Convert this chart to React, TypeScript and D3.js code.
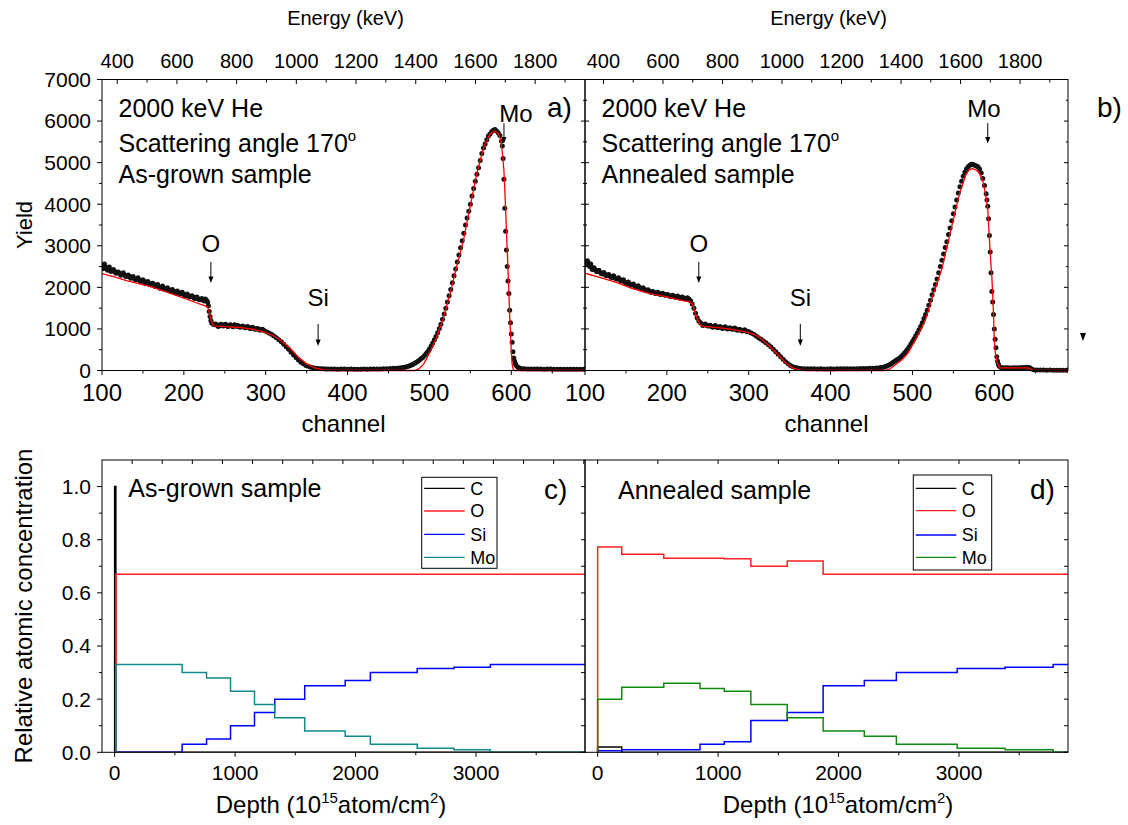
import React from "react";
import * as d3 from "d3";

const FONT = "'Liberation Sans', Arial, Helvetica, sans-serif";

// ---------- tick values ----------
const channelTicks = [100, 200, 300, 400, 500, 600];
const energyTicks = [400, 600, 800, 1000, 1200, 1400, 1600, 1800];
const yieldTicks = [0, 1000, 2000, 3000, 4000, 5000, 6000, 7000];
const concTicks = [0, 0.2, 0.4, 0.6, 0.8, 1.0];
const depthTicks = [0, 1000, 2000, 3000];

// ---------- RBS spectra: [channel, yield] (measured points) ----------
const grownSpectrum: [number, number][] = [
  [100, 2540], [101, 2450], [102, 2470], [103, 2560], [104, 2500], [105, 2480], [106, 2440], [107, 2410], [108, 2460],
  [109, 2490], [110, 2420], [111, 2380], [113, 2400], [114, 2430], [116, 2380], [117, 2340], [119, 2350], [120, 2370],
  [122, 2330], [123, 2290], [125, 2320], [126, 2350], [128, 2300], [129, 2260], [131, 2270], [132, 2300], [134, 2260],
  [135, 2220], [137, 2230], [138, 2260], [140, 2210], [141, 2180], [143, 2200], [144, 2230], [146, 2170], [147, 2140],
  [149, 2150], [150, 2180], [152, 2140], [153, 2100], [155, 2110], [156, 2140], [158, 2090], [159, 2060], [161, 2080],
  [162, 2100], [164, 2060], [165, 2020], [167, 2040], [168, 2070], [170, 2010], [171, 1980], [173, 2000], [174, 2030],
  [176, 1980], [177, 1950], [179, 1950], [180, 1990], [182, 1940], [183, 1910], [185, 1920], [186, 1950], [188, 1900],
  [189, 1870], [191, 1880], [192, 1910], [194, 1870], [195, 1840], [197, 1850], [198, 1880], [200, 1830], [201, 1800],
  [203, 1810], [204, 1840], [206, 1800], [207, 1770], [209, 1780], [210, 1800], [212, 1760], [213, 1730], [215, 1740],
  [216, 1770], [218, 1720], [219, 1700], [221, 1700], [222, 1730], [224, 1690], [225, 1670], [226, 1720], [227, 1700],
  [228, 1680], [229, 1640], [230, 1560], [231, 1420], [232, 1300], [233, 1200], [234, 1140], [236, 1110], [238, 1100],
  [239, 1120], [241, 1090], [242, 1060], [244, 1080], [245, 1110], [247, 1100], [248, 1070], [250, 1080], [251, 1110],
  [253, 1070], [254, 1060], [256, 1090], [257, 1100], [259, 1070], [260, 1050], [262, 1100], [263, 1080], [265, 1060],
  [266, 1080], [268, 1050], [269, 1040], [271, 1060], [272, 1070], [274, 1040], [275, 1030], [277, 1050], [278, 1060],
  [280, 1030], [281, 1010], [283, 1020], [284, 1040], [286, 1010], [287, 990], [289, 1000], [290, 1010], [292, 990],
  [293, 970], [295, 980], [296, 990], [298, 960], [301, 930], [304, 900], [307, 870], [310, 830], [313, 790], [316, 740],
  [319, 690], [322, 630], [325, 570], [328, 510], [331, 440], [334, 370], [337, 310], [340, 250], [343, 200], [346, 160],
  [349, 120], [352, 100], [355, 80], [358, 65], [361, 55], [364, 50], [367, 45], [370, 40], [373, 38], [376, 38],
  [380, 35], [384, 35], [388, 33], [392, 35], [396, 34], [400, 32], [404, 35], [408, 31], [412, 30], [416, 33], [420, 35],
  [424, 32], [428, 35], [432, 36], [436, 38], [440, 35], [444, 40], [448, 43], [452, 47], [456, 52], [460, 55], [463, 60],
  [466, 68], [468, 74], [470, 80], [472, 90], [474, 100], [476, 115], [478, 130], [480, 150], [482, 175], [484, 200],
  [486, 225], [488, 255], [490, 290], [492, 320], [494, 360], [496, 410], [498, 460], [500, 520], [502, 590], [504, 660],
  [506, 740], [508, 820], [510, 910], [512, 1010], [514, 1110], [516, 1230], [518, 1360], [520, 1500], [522, 1650],
  [524, 1800], [526, 1950], [528, 2110], [530, 2280], [532, 2440], [534, 2610], [536, 2780], [538, 2950], [540, 3120],
  [542, 3300], [544, 3500], [546, 3670], [548, 3830], [550, 4000], [552, 4200], [554, 4380], [556, 4550], [558, 4720],
  [560, 4880], [562, 5050], [564, 5220], [566, 5350], [568, 5450], [570, 5550], [572, 5640], [574, 5690], [576, 5750],
  [578, 5780], [580, 5800], [582, 5760], [584, 5720], [586, 5650], [588, 5520], [589, 5400], [590, 5100], [591, 4600],
  [592, 3900], [593, 3350], [594, 2900], [595, 2500], [596, 2150], [597, 1850], [598, 1450], [599, 1150], [600, 880],
  [601, 680], [602, 450], [603, 300], [604, 220], [605, 160], [606, 120], [608, 80], [610, 60], [613, 45], [616, 40],
  [620, 38], [624, 35], [628, 35], [632, 34], [636, 34], [640, 33], [644, 34], [648, 35], [652, 33], [656, 33], [660, 32],
  [664, 33], [668, 33], [672, 31], [676, 31], [680, 30], [684, 31], [688, 30], [690, 30],
];

const grownFit: [number, number][] = [
  [100, 2330], [115, 2250], [130, 2160], [145, 2090], [160, 2010], [180, 1880], [200, 1740], [215, 1630], [225, 1560],
  [229, 1530], [231, 1420], [233, 1240], [235, 1110], [238, 1075], [250, 1055], [265, 1040], [280, 1005], [292, 960],
  [300, 910], [310, 830], [320, 700], [330, 530], [340, 320], [350, 160], [360, 60], [370, 15], [380, 0], [482, 0],
  [487, 40], [493, 160], [501, 450], [509, 810], [517, 1260], [525, 1830], [533, 2480], [542, 3170], [550, 3980],
  [558, 4750], [566, 5360], [574, 5690], [580, 5760], [584, 5700], [587, 5550], [589, 5250], [591, 4800], [593, 3900],
  [595, 2900], [597, 1900], [598, 1300], [599, 850], [600, 450], [601, 150], [602, 50], [603, 0], [690, 0],
];

const annealSpectrum: [number, number][] = [
  [100, 2620], [101, 2560], [102, 2560], [103, 2640], [104, 2580], [105, 2520], [106, 2500], [107, 2560], [108, 2480],
  [109, 2430], [110, 2450], [111, 2470], [113, 2420], [114, 2380], [116, 2380], [117, 2410], [119, 2350], [120, 2330],
  [122, 2320], [123, 2360], [125, 2310], [126, 2280], [128, 2280], [129, 2310], [131, 2270], [132, 2240], [134, 2250],
  [135, 2280], [137, 2220], [138, 2200], [140, 2200], [141, 2230], [143, 2180], [144, 2150], [146, 2150], [147, 2180],
  [149, 2120], [150, 2100], [152, 2100], [153, 2130], [155, 2080], [156, 2050], [158, 2060], [159, 2080], [161, 2030],
  [162, 2010], [164, 2010], [165, 2040], [167, 1990], [168, 1960], [170, 1970], [171, 1990], [173, 1950], [174, 1920],
  [176, 1920], [177, 1940], [179, 1900], [180, 1880], [182, 1890], [183, 1900], [185, 1870], [186, 1850], [188, 1860],
  [189, 1880], [191, 1850], [192, 1830], [194, 1840], [195, 1860], [197, 1830], [198, 1810], [200, 1820], [201, 1830],
  [203, 1800], [204, 1780], [206, 1790], [207, 1810], [209, 1780], [210, 1760], [212, 1770], [213, 1790], [215, 1760],
  [216, 1740], [218, 1760], [219, 1770], [221, 1740], [222, 1720], [224, 1730], [225, 1750], [227, 1720], [229, 1680],
  [231, 1600], [233, 1500], [235, 1380], [237, 1270], [239, 1190], [241, 1150], [243, 1120], [244, 1080], [246, 1100],
  [247, 1120], [249, 1090], [250, 1070], [252, 1070], [253, 1090], [255, 1060], [256, 1040], [258, 1060], [259, 1080],
  [261, 1050], [262, 1030], [264, 1040], [265, 1060], [267, 1030], [268, 1010], [270, 1030], [271, 1050], [273, 1020],
  [274, 1000], [276, 1010], [277, 1030], [279, 1010], [280, 990], [282, 1000], [283, 1020], [285, 990], [286, 970],
  [288, 980], [289, 990], [291, 970], [292, 950], [294, 960], [295, 980], [297, 950], [298, 930], [300, 930], [303, 900],
  [306, 870], [309, 830], [312, 790], [315, 750], [318, 710], [321, 670], [324, 620], [327, 570], [330, 510], [333, 450],
  [336, 390], [339, 330], [342, 270], [345, 210], [348, 160], [351, 120], [354, 90], [357, 70], [360, 60], [364, 50],
  [368, 45], [372, 42], [376, 40], [380, 40], [384, 38], [388, 40], [392, 38], [396, 39], [400, 40], [404, 38], [408, 40],
  [412, 41], [416, 42], [420, 40], [424, 42], [428, 44], [432, 45], [436, 46], [440, 48], [444, 50], [448, 53], [452, 57],
  [456, 60], [460, 65], [462, 70], [464, 75], [466, 88], [468, 105], [470, 120], [472, 140], [474, 165], [476, 190],
  [478, 215], [480, 245], [482, 270], [484, 295], [486, 330], [488, 370], [490, 415], [492, 465], [494, 510], [496, 570],
  [498, 635], [500, 700], [502, 765], [504, 835], [506, 900], [508, 980], [510, 1060], [512, 1150], [514, 1250],
  [516, 1350], [518, 1450], [520, 1570], [522, 1690], [524, 1820], [526, 1940], [528, 2070], [530, 2200], [532, 2350],
  [534, 2500], [536, 2650], [538, 2800], [540, 2960], [542, 3100], [544, 3270], [546, 3430], [548, 3600], [550, 3770],
  [552, 3930], [554, 4100], [556, 4270], [558, 4420], [560, 4550], [562, 4670], [564, 4770], [566, 4850], [568, 4900],
  [570, 4940], [572, 4960], [574, 4955], [576, 4940], [578, 4920], [580, 4900], [582, 4850], [584, 4750], [586, 4620],
  [588, 4450], [590, 4250], [591, 4100], [592, 3950], [593, 3650], [594, 3250], [595, 2850], [596, 2350], [597, 1900],
  [598, 1650], [599, 1350], [600, 1000], [601, 750], [602, 550], [603, 330], [604, 220], [605, 150], [606, 100],
  [608, 75], [611, 65], [614, 65], [617, 64], [620, 62], [623, 64], [626, 65], [629, 67], [632, 69], [635, 72], [638, 75],
  [640, 78], [643, 70], [645, 40], [648, 20], [652, 12], [656, 10], [660, 10], [664, 9], [668, 10], [672, 9], [676, 9],
  [680, 8], [684, 8], [688, 8], [690, 8],
];

const annealFit: [number, number][] = [
  [100, 2340], [120, 2230], [140, 2110], [157, 1975], [180, 1850], [200, 1770], [220, 1680], [228, 1650], [231, 1600],
  [233, 1500], [235, 1370], [238, 1200], [241, 1090], [245, 1060], [262, 1030], [280, 990], [296, 930], [305, 880],
  [313, 800], [321, 660], [330, 500], [338, 330], [346, 170], [353, 70], [359, 25], [366, 5], [372, 0], [466, 0],
  [472, 30], [480, 150], [487, 260], [494, 400], [503, 720], [515, 1170], [525, 1800], [536, 2450], [546, 3300],
  [557, 4220], [565, 4700], [569, 4820], [573, 4860], [578, 4820], [582, 4740], [586, 4550], [588, 4380], [590, 4150],
  [592, 3880], [594, 3150], [596, 2500], [597, 2250], [599, 1370], [600, 720], [601, 450], [603, 230], [605, 110],
  [607, 65], [620, 62], [641, 65], [644, 40], [647, 5], [690, 0],
];

// element edge markers (channel)
const grownMarkers = [
  { el: "O", ch: 233 },
  { el: "Si", ch: 364 },
  { el: "Mo", ch: 591 },
];
const annealMarkers = [
  { el: "O", ch: 239 },
  { el: "Si", ch: 363 },
  { el: "Mo", ch: 592 },
];

// ---------- depth profiles (layer start depth, 1e15 at/cm2) ----------
const grownDepth = [0, 10, 560, 763, 962, 1161, 1329, 1578, 1914, 2123, 2512, 2817, 3119];
const grownC = [1.0, 0, 0, 0, 0, 0, 0, 0, 0, 0, 0, 0, 0];
const grownO = [0, 0.67, 0.67, 0.67, 0.67, 0.67, 0.67, 0.67, 0.67, 0.67, 0.67, 0.67, 0.67];
const grownSi = [0, 0, 0.03, 0.05, 0.1, 0.15, 0.2, 0.25, 0.27, 0.3, 0.315, 0.32, 0.33];
const grownMo = [0, 0.33, 0.3, 0.28, 0.23, 0.18, 0.13, 0.08, 0.06, 0.03, 0.015, 0.01, 0];

const annealDepth = [0, 200, 549, 850, 1051, 1272, 1574, 1872, 2214, 2480, 2985, 3383, 3782];
const annealC = [0.02, 0, 0, 0, 0, 0, 0, 0, 0, 0, 0, 0, 0];
const annealO = [0.773, 0.745, 0.73, 0.73, 0.728, 0.7, 0.72, 0.67, 0.67, 0.67, 0.67, 0.67, 0.67];
const annealSi = [0.006, 0.01, 0.01, 0.03, 0.04, 0.12, 0.15, 0.25, 0.27, 0.3, 0.315, 0.32, 0.33];
const annealMo = [0.2, 0.245, 0.26, 0.24, 0.23, 0.18, 0.13, 0.08, 0.06, 0.03, 0.015, 0.01, 0];

const elementNames = ["C", "O", "Si", "Mo"];

// ---------- layout ----------
const TOP_Y0 = 79.5;
const TOP_Y1 = 370.5;
const BOT_Y0 = 460;
const BOT_Y1 = 752.3;
const PANEL_L = 102;
const PANEL_M = 585;
const PANEL_R = 1068;
const CH_DOMAIN: [number, number] = [100, 690];
const DEPTH_DOMAIN: [number, number] = [-105, 3905];

type SpecProps = {
  id: string;
  left: number;
  right: number;
  energyDomain: [number, number];
  spectrum: [number, number][];
  fit: [number, number][];
  markers: { el: string; ch: number }[];
  first: boolean;
  lines: string[];
  letter: string;
  letterX: number;
  moLabelX: number;
  moLabelY: number;
};

function SpectrumPanel(p: SpecProps) {
  const x = d3.scaleLinear().domain(CH_DOMAIN).range([p.left, p.right]);
  const y = d3.scaleLinear().domain([0, 7000]).range([TOP_Y1, TOP_Y0]);
  const e = d3.scaleLinear().domain(p.energyDomain).range([p.left, p.right]);
  const line = d3
    .line<[number, number]>()
    .x((d) => x(d[0]))
    .y((d) => y(d[1]));
  const chMinor = d3.range(100, 691, 50);
  const eMinor = d3.range(Math.ceil(p.energyDomain[0] / 100) * 100, p.energyDomain[1], 100);
  const yMinor = d3.range(0, 7001, 500);
  const cx = (p.left + p.right) / 2;
  const markerLayout: Record<string, { ly: number; a0: number; a1: number }> = {
    O: { ly: 251.7, a0: 2610, a1: 2105 },
    Si: { ly: 305.5, a0: 1120, a1: 590 },
    Mo: { ly: p.moLabelY, a0: 5950, a1: 5460 },
  };
  return (
    <g>
      <defs>
        <clipPath id={p.id}>
          <rect x={p.left} y={TOP_Y0} width={p.right - p.left} height={TOP_Y1 - TOP_Y0 + 3} />
        </clipPath>
      </defs>
      <g clipPath={`url(#${p.id})`}>
        {p.spectrum.map((d, i) => (
          <circle key={i} cx={x(d[0])} cy={y(d[1])} r={2.5} fill="#111" />
        ))}
        <path d={line(p.fit) || ""} fill="none" stroke="#ff0000" strokeWidth={1.3} />
      </g>
      <rect x={p.left} y={TOP_Y0} width={p.right - p.left} height={TOP_Y1 - TOP_Y0} fill="none" stroke="#000" strokeWidth={1} />
      {chMinor.map((c) => (
        <line key={"b" + c} x1={x(c)} x2={x(c)} y1={TOP_Y1} y2={TOP_Y1 + (c % 100 === 0 ? 4.5 : 3)} stroke="#000" />
      ))}
      {channelTicks.map((c) => (
        <text key={"bl" + c} x={x(c)} y={401} textAnchor="middle" fontSize={24}>
          {c}
        </text>
      ))}
      <text x={cx} y={431.5} textAnchor="middle" fontSize={24}>
        channel
      </text>
      {eMinor.map((v) => (
        <line key={"t" + v} x1={e(v)} x2={e(v)} y1={TOP_Y0} y2={TOP_Y0 + (v % 200 === 0 ? 4.5 : 3)} stroke="#000" />
      ))}
      {energyTicks.map((v) => (
        <text key={"tl" + v} x={e(v)} y={68} textAnchor="middle" fontSize={20}>
          {v}
        </text>
      ))}
      <text x={cx + 2} y={25} textAnchor="middle" fontSize={20}>
        Energy (keV)
      </text>
      {yMinor.map((v) => {
        const len = v % 1000 === 0 ? 5 : 3;
        return (
          <g key={"y" + v}>
            {p.first ? (
              <line x1={p.left - len} x2={p.left} y1={y(v)} y2={y(v)} stroke="#000" />
            ) : (
              <line x1={p.left} x2={p.left + len - 1} y1={y(v)} y2={y(v)} stroke="#000" />
            )}
            <line x1={p.right - len + 1} x2={p.right} y1={y(v)} y2={y(v)} stroke="#000" />
          </g>
        );
      })}
      {p.first &&
        yieldTicks.map((v) => (
          <text key={"yl" + v} x={91} y={y(v)} dy="0.35em" textAnchor="end" fontSize={21}>
            {v}
          </text>
        ))}
      <g fontSize={25}>
        <text x={p.left + 16.5} y={117.3}>{p.lines[0]}</text>
        <text x={p.left + 16.5} y={151.5}>
          {p.lines[1]}
          <tspan fontSize={15} dy={-11}>o</tspan>
        </text>
        <text x={p.left + 16.5} y={182.7}>{p.lines[2]}</text>
      </g>
      <text x={p.letterX} y={117} fontSize={28}>
        {p.letter}
      </text>
      {p.markers.map((m) => {
        const L = markerLayout[m.el];
        const ax = x(m.ch);
        const y0 = y(L.a0);
        const y1 = y(L.a1);
        const lx = m.el === "Mo" ? p.moLabelX : ax;
        return (
          <g key={m.el}>
            <text x={lx} y={L.ly} textAnchor="middle" fontSize={24}>
              {m.el}
            </text>
            <line x1={ax} x2={ax} y1={y0} y2={y1 - 5} stroke="#000" strokeWidth={1} />
            <path d={`M${ax - 2.5},${y1 - 6.5}L${ax + 2.5},${y1 - 6.5}L${ax},${y1}Z`} fill="#000" />
          </g>
        );
      })}
    </g>
  );
}

type ProfProps = {
  id: string;
  left: number;
  right: number;
  depth: number[];
  series: number[][];
  colors: string[];
  first: boolean;
  sample: string;
  sampleX: number;
  sampleY: number;
  letter: string;
  letterX: number;
  legendBox: [number, number, number, number];
  legendRows: number[];
  depthLabelX: number;
  topTicks: number[];
};

function ProfilePanel(p: ProfProps) {
  const x = d3.scaleLinear().domain(DEPTH_DOMAIN).range([p.left, p.right]);
  const y = d3.scaleLinear().domain([0, 1.1]).range([BOT_Y1, BOT_Y0]);
  const line = d3
    .line<[number, number]>()
    .x((d) => x(d[0]))
    .y((d) => y(d[1]))
    .curve(d3.curveStepAfter);
  const yMinor = d3.range(0, 11).map((i) => i / 10);
  const xMinor = d3.range(0, 3901, 500);
  const [bx0, by0, bx1, by1] = p.legendBox;
  return (
    <g>
      <defs>
        <clipPath id={p.id}>
          <rect x={p.left} y={BOT_Y0} width={p.right - p.left} height={BOT_Y1 - BOT_Y0} />
        </clipPath>
      </defs>
      <g clipPath={`url(#${p.id})`}>
        {p.series.map((vals, k) => {
          const pts: [number, number][] = [[0, 0]];
          p.depth.forEach((d, i) => pts.push([d, vals[i]]));
          pts.push([DEPTH_DOMAIN[1], vals[vals.length - 1]]);
          return <path key={k} d={line(pts) || ""} fill="none" stroke={p.colors[k]} strokeWidth={1.5} />;
        })}
      </g>
      <rect x={p.left} y={BOT_Y0} width={p.right - p.left} height={BOT_Y1 - BOT_Y0} fill="none" stroke="#000" />
      {xMinor.map((v) => (
        <line key={"b" + v} x1={x(v)} x2={x(v)} y1={BOT_Y1} y2={BOT_Y1 + (v % 1000 === 0 ? 4.5 : 3)} stroke="#000" />
      ))}
      {depthTicks.map((v) => (
        <text key={"bl" + v} x={x(v)} y={780} textAnchor="middle" fontSize={21}>
          {v}
        </text>
      ))}
      <text x={p.depthLabelX} y={813} textAnchor="middle" fontSize={24}>
        Depth (10
        <tspan fontSize={15} dy={-10}>15</tspan>
        <tspan dy={10}>atom/cm</tspan>
        <tspan fontSize={15} dy={-10}>2</tspan>
        <tspan dy={10}>)</tspan>
      </text>
      {p.topTicks.map((v) => (
        <line key={"t" + v} x1={x(v)} x2={x(v)} y1={BOT_Y0} y2={BOT_Y0 + 4} stroke="#000" />
      ))}
      {yMinor.map((v, i) => {
        const len = i % 2 === 0 ? 5 : 3;
        return (
          <g key={"y" + i}>
            {p.first && <line x1={p.left - len} x2={p.left} y1={y(v)} y2={y(v)} stroke="#000" />}
            <line x1={p.right - 4} x2={p.right} y1={y(v)} y2={y(v)} stroke="#000" />
          </g>
        );
      })}
      {p.first &&
        concTicks.map((v) => (
          <text key={"yl" + v} x={91} y={y(v)} dy="0.35em" textAnchor="end" fontSize={21}>
            {v.toFixed(1)}
          </text>
        ))}
      <text x={p.sampleX} y={p.sampleY} fontSize={25}>
        {p.sample}
      </text>
      <text x={p.letterX} y={499} fontSize={28}>
        {p.letter}
      </text>
      <rect x={bx0} y={by0} width={bx1 - bx0} height={by1 - by0} fill="#fff" stroke="#000" strokeWidth={1} />
      {elementNames.map((n, k) => (
        <g key={n}>
          <line x1={bx0 + 2.5} x2={bx0 + 43} y1={p.legendRows[k]} y2={p.legendRows[k]} stroke={p.colors[k]} strokeWidth={1.3} />
          <text x={bx0 + 48.5} y={p.legendRows[k]} dy="0.36em" fontSize={18}>
            {n}
          </text>
        </g>
      ))}
    </g>
  );
}

export default function App() {
  const cTop = d3.range(DEPTH_DOMAIN[0] + 250, DEPTH_DOMAIN[1], 250);
  const dTop = d3.range(0, DEPTH_DOMAIN[1], 500);
  return (
    <svg
      width={1128}
      height={825}
      viewBox="0 0 1128 825"
      style={{ position: "absolute", left: 0, top: 0, background: "#fff" }}
      fontFamily={FONT}
      fill="#000"
    >
      <rect x={0} y={0} width={1128} height={825} fill="#fff" />
      <SpectrumPanel
        id="clipA"
        left={PANEL_L}
        right={PANEL_M}
        energyDomain={[349, 1967]}
        spectrum={grownSpectrum}
        fit={grownFit}
        markers={grownMarkers}
        first={true}
        lines={["2000 keV He", "Scattering angle 170", "As-grown sample"]}
        letter="a)"
        letterX={547}
        moLabelX={516}
        moLabelY={121.5}
      />
      <SpectrumPanel
        id="clipB"
        left={PANEL_M}
        right={PANEL_R}
        energyDomain={[338, 1961]}
        spectrum={annealSpectrum}
        fit={annealFit}
        markers={annealMarkers}
        first={false}
        lines={["2000 keV He", "Scattering angle 170", "Annealed sample"]}
        letter="b)"
        letterX={1097}
        moLabelX={984}
        moLabelY={117}
      />
      <path d="M1080,333L1086,333L1083,341Z" fill="#000" />
      <text transform="translate(32,225) rotate(-90)" textAnchor="middle" fontSize={22}>
        Yield
      </text>
      <text transform="translate(32,606) rotate(-90)" textAnchor="middle" fontSize={24}>
        Relative atomic concentration
      </text>
      <ProfilePanel
        id="clipC"
        left={PANEL_L}
        right={PANEL_M}
        depth={grownDepth}
        series={[grownC, grownO, grownSi, grownMo]}
        colors={["#000000", "#ff2020", "#0000ff", "#108a8a"]}
        first={true}
        sample="As-grown sample"
        sampleX={128.3}
        sampleY={497}
        letter="c)"
        letterX={544}
        legendBox={[421.7, 477.3, 497, 568.3]}
        legendRows={[488.3, 511, 534.3, 557.3]}
        depthLabelX={331}
        topTicks={cTop}
      />
      <ProfilePanel
        id="clipD"
        left={PANEL_M}
        right={PANEL_R}
        depth={annealDepth}
        series={[annealC, annealO, annealSi, annealMo]}
        colors={["#000000", "#ff2020", "#0000ff", "#108a10"]}
        first={false}
        sample="Annealed sample"
        sampleX={618}
        sampleY={499}
        letter="d)"
        letterX={1030}
        legendBox={[913.3, 475, 991.7, 570]}
        legendRows={[488.3, 510.7, 535, 557.3]}
        depthLabelX={838}
        topTicks={dTop}
      />
    </svg>
  );
}
